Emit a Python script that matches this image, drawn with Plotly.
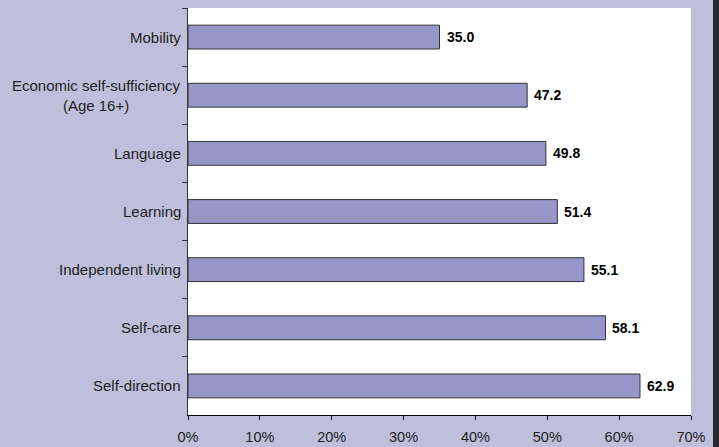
import plotly.graph_objects as go

categories = ["Mobility", "Economic self-sufficiency<br>(Age 16+)", "Language", "Learning",
              "Independent living", "Self-care", "Self-direction"]
values = [35.0, 47.2, 49.8, 51.4, 55.1, 58.1, 62.9]
x_ticks = [0, 10, 20, 30, 40, 50, 60, 70]
x_tick_labels = ["0%", "10%", "20%", "30%", "40%", "50%", "60%", "70%"]

W, H = 719, 447
L, R, T, B = 188, 28, 8, 32
plot_w = W - L - R
plot_h = H - T - B
FONT = "Liberation Sans, Arial, sans-serif"

fig = go.Figure(go.Bar(
    y=categories, x=values, orientation="h",
    marker=dict(color="#9696c8", line=dict(color="#333333", width=1)),
    width=0.41,
    hoverinfo="x+y",
))

annotations = []
for c, v in zip(categories, values):
    annotations.append(dict(x=v, y=c, xref="x", yref="y", text=f"<b>{v:.1f}</b>",
                            xanchor="left", yanchor="middle", xshift=5, showarrow=False,
                            font=dict(family=FONT, size=14, color="#000000")))
    annotations.append(dict(x=0, y=c, xref="paper", yref="y", text=c,
                            xanchor="right", yanchor="middle", align="center", xshift=-5,
                            showarrow=False,
                            font=dict(family=FONT, size=15, color="#1e1e1e")))

fig.update_layout(
    width=W, height=H,
    margin=dict(l=L, r=R, t=T, b=B, pad=0, autoexpand=False),
    paper_bgcolor="#bfbfdc",
    plot_bgcolor="#ffffff",
    font=dict(family=FONT, size=14, color="#1e1e1e"),
    showlegend=False,
    bargap=0.59,
    xaxis=dict(range=[0, 70], tickvals=x_ticks, ticktext=x_tick_labels, automargin=False,
               showgrid=False, zeroline=False, showline=True, linecolor="#000000", linewidth=1,
               ticks="outside", ticklen=4, tickcolor="#000000", ticklabelstandoff=5,
               tickfont=dict(family=FONT, size=14.5, color="#1e1e1e"), fixedrange=True),
    yaxis=dict(categoryorder="array", categoryarray=categories, autorange="reversed",
               automargin=False, showticklabels=False,
               showgrid=False, showline=True, linecolor="#333333", linewidth=1,
               ticks="outside", ticklen=5, tickcolor="#333333", tickson="boundaries"),
    annotations=annotations,
    shapes=[dict(type="rect", xref="paper", yref="paper",
                 x0=(713 - L) / plot_w, x1=(722 - L) / plot_w,
                 y0=-(B + 5) / plot_h, y1=1 + (T + 5) / plot_h,
                 fillcolor="#2b2b2b", line=dict(width=0), layer="above")],
)

fig.write_html("out.html", config={"displayModeBar": False},
               post_script="document.body.style.margin='0';document.body.style.overflow='hidden';")
